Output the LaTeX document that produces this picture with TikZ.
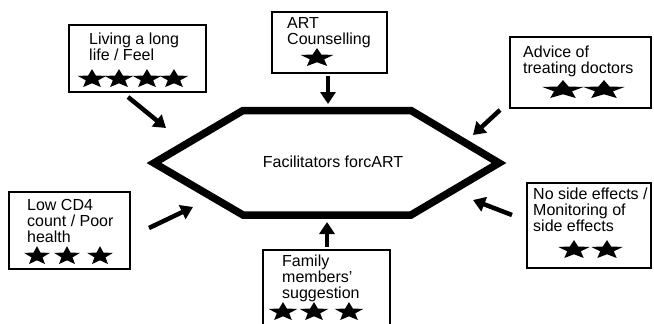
\documentclass[tikz,border=0pt]{standalone}
\usepackage{fontspec}
\setmainfont{Liberation Sans}
\usetikzlibrary{arrows.meta}
\tikzset{
  fbox/.style={draw, line width=2.5pt, inner sep=0pt},
  lbl/.style={anchor=north west, inner sep=0pt, align=left, font=\fontsize{16}{16}\selectfont},
  arr/.style={-{Triangle[length=12pt,width=15pt]}, line width=4.5pt},
  fstar/.pic={\fill[yscale=-.66] (90:15) -- (126:6.5) -- (162:15) -- (198:6.5) -- (234:15)
    -- (270:6.5) -- (306:15) -- (342:6.5) -- (18:15) -- (54:6.5) -- cycle;}
}
\begin{document}
\begin{tikzpicture}[x=1pt, y=-1pt]
    \useasboundingbox (0,0) rectangle (654,324);
    \clip (0,0) rectangle (654,324);

    % centre hexagon
    \draw[line width=7.5pt] (154,163) -- (243,110.5) -- (411,110.5) -- (499,163)
        -- (411,215) -- (243,215) -- cycle;
    \node[font=\fontsize{16}{16}\selectfont] (hub) at (333,162) {Facilitators forcART};

    % boxes
    \node[fbox, minimum width=137, minimum height=67] (living) at (137.5,58.5) {};
    \node[fbox, minimum width=115, minimum height=61] (counsel) at (329.5,42.5) {};
    \node[fbox, minimum width=141, minimum height=71] (advice) at (580.5,72.5) {};
    \node[fbox, minimum width=121, minimum height=77] (cdfour) at (69.5,230.5) {};
    \node[fbox, minimum width=127, minimum height=85] (family) at (326.5,292.5) {};
    \node[fbox, minimum width=124, minimum height=85] (sidefx) at (589,225.5) {};

    \node[lbl] (livingtx) at (89,33) {Living a long\\life / Feel};
    \node[lbl] (counseltx) at (287,17) {ART\\Counselling};
    \node[lbl] (advicetx) at (523,46) {Advice of\\treating doctors};
    \node[lbl] (cdfourtx) at (27,199) {Low CD4\\count / Poor\\health};
    \node[lbl] (familytx) at (282,255) {Family\\members'\\suggestion};
    \node[lbl] (sidefxtx) at (533,188) {No side effects /\\Monitoring of\\side effects};

    % stars
    \foreach \x in {92,119,147,174} \pic at (\x,79) {fstar};
    \pic[xscale=1.15] at (317,58) {fstar};
    \foreach \x in {563,604} \pic[xscale=1.45] at (\x,90) {fstar};
    \foreach \x in {37,67,100} \pic[xscale=.9] at (\x,256) {fstar};
    \foreach \x in {283,314,349} \pic at (\x,312) {fstar};
    \foreach \x in {574,607} \pic[xscale=1.1] at (\x,250) {fstar};

    % arrows
    \coordinate (livingA) at (128,97);   \coordinate (livingB) at (166,128);
    \coordinate (counselA) at (328,76);  \coordinate (counselB) at (328,104);
    \coordinate (adviceA) at (500,110);  \coordinate (adviceB) at (473,135);
    \coordinate (cdfourA) at (149,228);  \coordinate (cdfourB) at (193,207);
    \coordinate (familyA) at (327,247);  \coordinate (familyB) at (327,222);
    \coordinate (sidefxA) at (512,215);  \coordinate (sidefxB) at (473,200);

    \draw[arr] (livingA) to (livingB); \draw[arr] (counselA) to (counselB);
    \draw[arr] (adviceA) to (adviceB); \draw[arr] (cdfourA) to (cdfourB);
    \draw[arr] (familyA) to (familyB); \draw[arr] (sidefxA) to (sidefxB);
\end{tikzpicture}
\end{document}
